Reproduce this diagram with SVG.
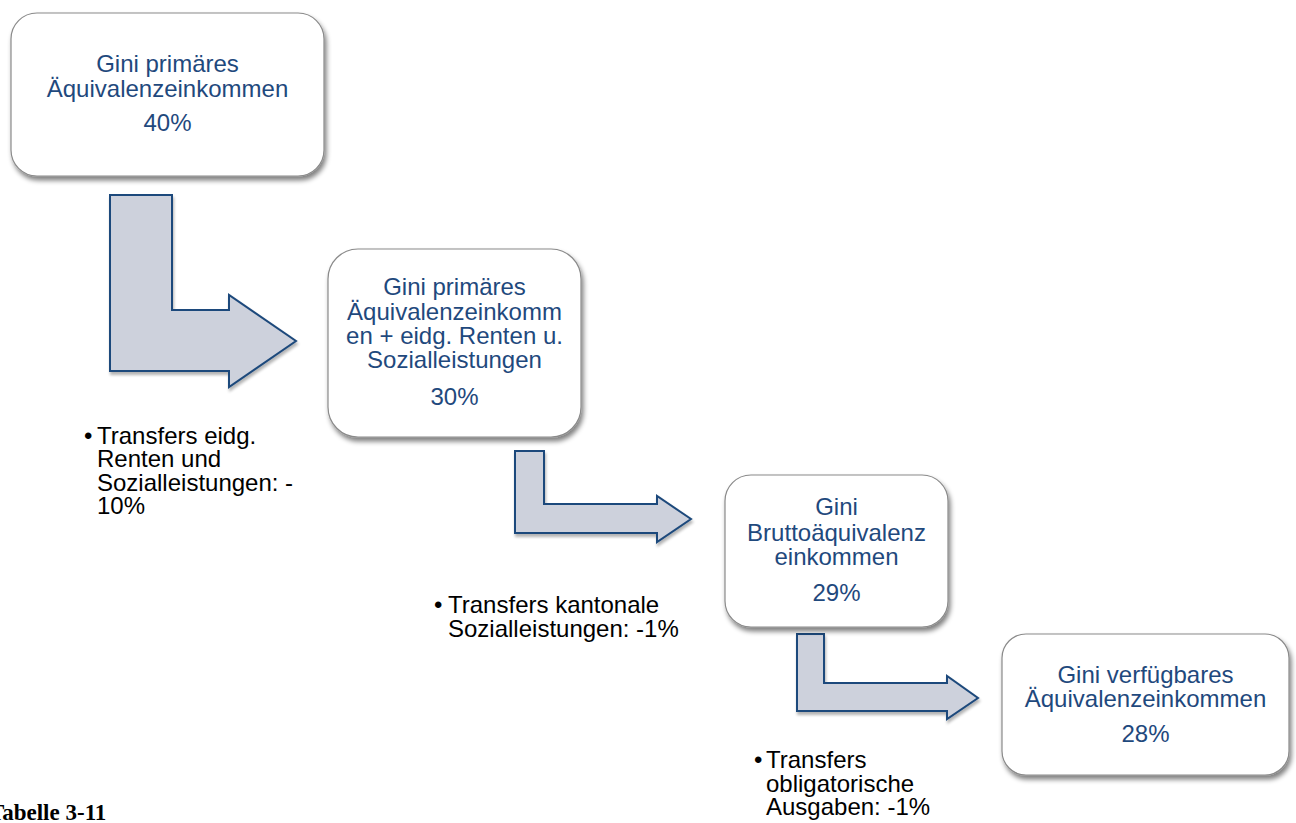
<svg xmlns="http://www.w3.org/2000/svg" width="1296" height="823" viewBox="0 0 1296 823">
<defs>
<filter id="sh" x="-10%" y="-10%" width="125%" height="130%">
<feGaussianBlur in="SourceAlpha" stdDeviation="2.5"/>
<feOffset dx="2" dy="4" result="b"/>
<feComponentTransfer><feFuncA type="linear" slope="0.5"/></feComponentTransfer>
<feMerge><feMergeNode/><feMergeNode in="SourceGraphic"/></feMerge>
</filter>
<filter id="ash" x="-10%" y="-10%" width="125%" height="130%">
<feGaussianBlur in="SourceAlpha" stdDeviation="1.5"/>
<feOffset dx="1" dy="3" result="b"/>
<feComponentTransfer><feFuncA type="linear" slope="0.3"/></feComponentTransfer>
<feMerge><feMergeNode/><feMergeNode in="SourceGraphic"/></feMerge>
</filter>
</defs>
<style>
.box{fill:#ffffff;stroke:#8a8a8a;stroke-width:1.2;filter:url(#sh)}
.t{font-family:"Liberation Sans",Arial,sans-serif;font-size:24px;fill:#1F497D;text-anchor:middle}
.arr{fill:#CDD1DC;stroke:#1F4A7C;stroke-width:2;stroke-linejoin:miter;filter:url(#ash)}
.lbl{font-family:"Liberation Sans",Arial,sans-serif;font-size:24px;fill:#000000}
.cap{font-family:"Liberation Serif","Times New Roman",serif;font-size:23px;font-weight:bold;fill:#000000}
</style>
<rect width="1296" height="823" fill="#ffffff"/>
<g id="connectors">
<path class="arr" d="M110,195 L172,195 L172,310 L229,310 L229,295 L296,341 L229,387 L229,371 L110,371 Z"/>
<path class="arr" d="M515,451 L544,451 L544,504 L657,504 L657,496 L691,519 L657,542 L657,533 L515,533 Z"/>
<path class="arr" d="M797,634 L824,634 L824,683 L947,683 L947,676 L978,698 L947,719 L947,711 L797,711 Z"/>
</g>
<g id="node1">
<rect class="box" x="11" y="13" width="313" height="163" rx="26"/>
<text class="t"><tspan x="167.5" y="72">Gini primäres</tspan><tspan x="167.5" y="97">Äquivalenzeinkommen</tspan><tspan x="167.5" y="131">40%</tspan></text>
</g>
<g id="node2">
<rect class="box" x="328" y="249" width="253" height="188" rx="30"/>
<text class="t"><tspan x="454.5" y="295">Gini primäres</tspan><tspan x="454.5" y="320">Äquivalenzeinkomm</tspan><tspan x="454.5" y="344">en + eidg. Renten u.</tspan><tspan x="454.5" y="368">Sozialleistungen</tspan><tspan x="454.5" y="405">30%</tspan></text>
</g>
<g id="node3">
<rect class="box" x="725" y="475" width="223" height="152" rx="26"/>
<text class="t"><tspan x="836.5" y="515">Gini</tspan><tspan x="836.5" y="541">Bruttoäquivalenz</tspan><tspan x="836.5" y="565">einkommen</tspan><tspan x="836.5" y="601">29%</tspan></text>
</g>
<g id="node4">
<rect class="box" x="1002" y="634" width="287" height="141" rx="24"/>
<text class="t"><tspan x="1145.5" y="683">Gini verfügbares</tspan><tspan x="1145.5" y="707">Äquivalenzeinkommen</tspan><tspan x="1145.5" y="742">28%</tspan></text>
</g>
<g id="label1">
<text class="lbl"><tspan x="84" y="444">•</tspan><tspan x="97" y="444">Transfers eidg.</tspan><tspan x="97" y="467">Renten und</tspan><tspan x="97" y="491">Sozialleistungen: -</tspan><tspan x="97" y="514">10%</tspan></text>
</g>
<g id="label2">
<text class="lbl"><tspan x="434" y="613">•</tspan><tspan x="448" y="613">Transfers kantonale</tspan><tspan x="448" y="637">Sozialleistungen: -1%</tspan></text>
</g>
<g id="label3">
<text class="lbl"><tspan x="754" y="768">•</tspan><tspan x="766" y="768">Transfers</tspan><tspan x="766" y="792">obligatorische</tspan><tspan x="766" y="815">Ausgaben: -1%</tspan></text>
</g>
<text class="cap" x="-11" y="820">Tabelle 3-11</text>
</svg>
